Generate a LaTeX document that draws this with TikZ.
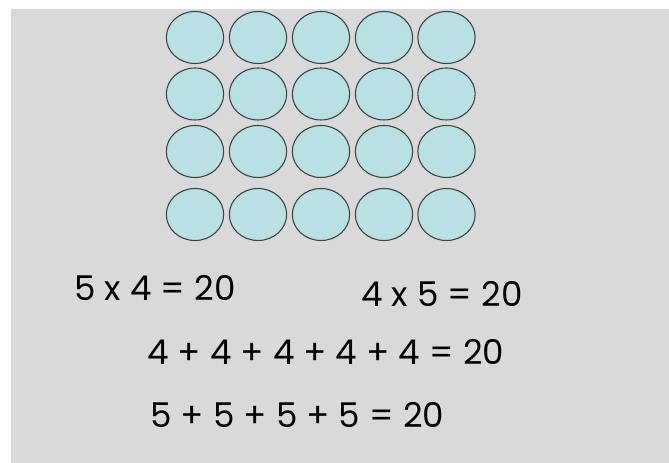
\documentclass[tikz,border=0pt]{standalone}
\usepackage{fontspec}
\setmainfont{Poppins}
\usepackage{tikz}
\usepackage{xcolor}
\usetikzlibrary{shapes.geometric}

\definecolor{dotfill}{RGB}{185,224,227}
\definecolor{dotline}{RGB}{64,64,64}
\definecolor{slide}{RGB}{217,217,217}

\newcommand{\sumfont}{\fontsize{25.6}{30}\selectfont\spaceskip 6.8pt\relax}

\tikzset{
  dot/.style={ellipse, draw=dotline, fill=dotfill, line width=0.8pt,
    minimum width=43pt, minimum height=39pt, inner sep=0pt},
  sum/.style={anchor=base west, inner sep=0pt, font=\sumfont}
}

\begin{document}
\begin{tikzpicture}[x=0.75pt,y=0.75pt,yscale=-1,xscale=1]
\useasboundingbox (0,0) rectangle (669,463);

%Background
\fill [slide] (11,9) rectangle (669,463);

%Row 1
\node [dot] (d11) at (195,37.5) {};
\node [dot] (d12) at (258,37.5) {};
\node [dot] (d13) at (321,37.5) {};
\node [dot] (d14) at (384,37.5) {};
\node [dot] (d15) at (446.5,37.5) {};
%Row 2
\node [dot] (d21) at (195,94) {};
\node [dot] (d22) at (258,94) {};
\node [dot] (d23) at (321,94) {};
\node [dot] (d24) at (384,94) {};
\node [dot] (d25) at (446.5,94) {};
%Row 3
\node [dot] (d31) at (195,151.5) {};
\node [dot] (d32) at (258,151.5) {};
\node [dot] (d33) at (321,151.5) {};
\node [dot] (d34) at (384,151.5) {};
\node [dot] (d35) at (446.5,151.5) {};
%Row 4
\node [dot] (d41) at (195,214.5) {};
\node [dot] (d42) at (258,214.5) {};
\node [dot] (d43) at (321,214.5) {};
\node [dot] (d44) at (384,214.5) {};
\node [dot] (d45) at (446.5,214.5) {};

% Text Node
\node [sum] (fivebyfour) at (74,301) {5 x 4 = 20};
% Text Node
\node [sum] (fourbyfive) at (361,307) {4 x 5 = 20};
% Text Node
\node [sum] (fourfives) at (147,365) {4 + 4 + 4 + 4 + 4 = 20};
% Text Node
\node [sum] (fivefours) at (150,428) {5 + 5 + 5 + 5 = 20};

\end{tikzpicture}
\end{document}
